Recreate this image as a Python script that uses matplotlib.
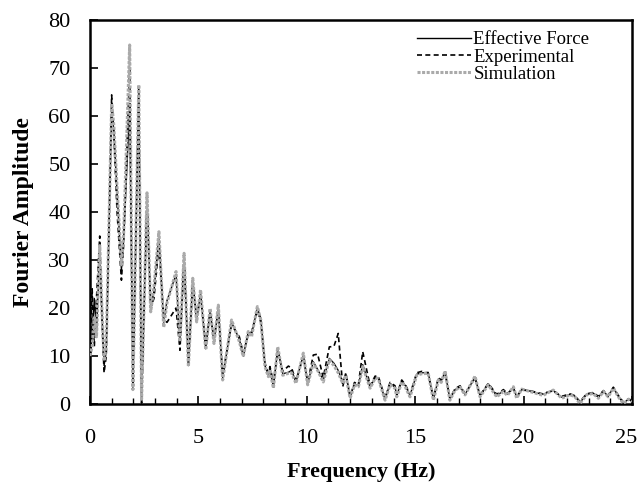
import matplotlib
matplotlib.use("Agg")
import matplotlib.pyplot as plt
from matplotlib.ticker import MultipleLocator
from matplotlib.transforms import ScaledTranslation

plt.rcParams['font.family'] = ['Liberation Serif', 'DejaVu Serif']

# Frequency points (Hz) shared by the three spectra
freq = [0.0, 0.1, 0.2, 0.3, 0.45, 0.55, 0.65, 0.75, 1.0, 1.1, 1.25, 1.45, 1.55,
        1.83, 1.98, 2.25, 2.38, 2.63, 2.8, 2.95, 3.18, 3.4, 3.55, 3.97, 4.15,
        4.34, 4.54, 4.74, 4.92, 5.1, 5.34, 5.54, 5.72, 5.92, 6.12, 6.53, 6.89,
        7.07, 7.3, 7.45, 7.72, 7.88, 8.07, 8.23, 8.3, 8.46, 8.66, 8.89, 9.15,
        9.3, 9.5, 9.84, 10.04, 10.3, 10.5, 10.76, 11.04, 11.25, 11.45, 11.66,
        11.8, 12.0, 12.2, 12.38, 12.58, 12.92, 13.15, 13.3, 13.61, 13.84, 14.07,
        14.15, 14.38, 14.55, 14.76, 15.07, 15.3, 15.6, 15.84, 16.07, 16.2, 16.38,
        16.6, 16.84, 17.07, 17.3, 17.76, 17.99, 18.37, 18.76, 19.07, 19.25,
        19.53, 19.68, 19.91, 20.3, 20.6, 20.9, 21.1, 21.37, 21.76, 22.14, 22.35,
        22.6, 22.9, 23.2, 23.45, 23.68, 23.9, 24.14, 24.37, 24.6, 24.85, 25.0]

simulation = [10, 12, 18, 14, 33, 20, 9, 12, 62.6, 58, 45, 29, 35,
              74.8, 3, 66.5, 1, 44, 19.2, 24.4, 35.9, 16, 21, 27.6, 13,
              31.4, 7.8, 26.2, 17.1, 23.8, 11.3, 19.9, 12.6, 20.6, 5, 17.5, 13,
              9.9, 15.1, 14, 20.3, 17.5, 7.8, 5.7, 7.2, 3.3, 11.9, 6, 6.4,
              6.5, 4.3, 10.6, 4, 8.5, 7, 4.6, 9.2, 8, 6.5, 4.3,
              6, 1.2, 4, 3.6, 7.8, 3.3, 5.35, 5.3, 0.8, 4, 3.3,
              1.5, 4.6, 3.5, 1.5, 6, 6.3, 6.4, 0.8, 5, 4.5, 6.9,
              0.8, 2.9, 3.5, 1.9, 5.8, 1.5, 4, 1.5, 2.6, 1.8,
              3.6, 1.2, 3.1, 2.6, 2.2, 1.8, 2.3, 2.9, 1.2, 1.9, 1.6,
              0.1, 1.9, 2.2, 1.2, 2.6, 1.5, 3.3, 1.5, 0.1, 1, 0.5]

effective_force = [10, 14, 22, 15, 32, 19, 8, 11, 61, 57, 44, 28, 34,
                   62, 3.5, 65, 0.5, 43, 20, 23.5, 35, 17, 21.5, 27, 12.5,
                   31, 8, 26, 17.5, 23, 11.5, 19.5, 13, 20, 5.5, 17, 13.5,
                   10, 15, 14.5, 20, 17.8, 8, 6, 7.5, 3.5, 11.5, 6.3, 6.6,
                   7, 4.6, 10.2, 4.3, 8.8, 7.2, 5, 9.5, 8.5, 7, 4.5,
                   6.2, 1.5, 4.2, 3.8, 8.2, 3.5, 5.5, 5.5, 1, 4.3, 3.5,
                   1.8, 4.8, 3.8, 1.8, 6.2, 6.5, 6.6, 1, 5.2, 4.8, 6.7,
                   1, 3, 3.6, 2, 5.6, 1.7, 4.2, 1.7, 2.8, 2,
                   3.5, 1.4, 3, 2.7, 2.3, 2, 2.4, 2.8, 1.4, 2, 1.7,
                   0.3, 2, 2.3, 1.4, 2.7, 1.6, 3.4, 1.6, 0.2, 1, 0.5]

experimental = [10, 24, 12, 22, 35, 18, 6.5, 10, 64.4, 56, 40, 25.8, 33,
                70, 4, 66, 0.2, 42, 20, 22, 33, 18, 17, 20, 11.2,
                30, 8.5, 25, 18, 22.5, 12, 19, 13.5, 19.5, 6, 16.5, 14,
                10.5, 14.5, 15, 19.5, 17, 8.5, 6.5, 7.8, 4.5, 11, 6.8, 7.9,
                7.5, 4.8, 10, 4.5, 10.2, 10.4, 5.5, 11.9, 12, 14.7, 3.6,
                6.5, 1.5, 4.5, 4, 10.9, 3.8, 5.8, 5.8, 1.2, 4.5, 3.8,
                2, 5, 4, 2, 6.5, 6.8, 6.2, 1.2, 5.5, 5, 6.5,
                1.2, 3.2, 3.8, 2.2, 5.4, 1.8, 4.3, 2, 3, 2.2,
                3.3, 1.6, 2.9, 2.8, 2.4, 2.1, 2.5, 2.7, 1.6, 2.1, 1.8,
                0.5, 2.1, 2.4, 1.6, 2.8, 1.8, 3.5, 1.8, 0.4, 1.1, 0.6]

fig = plt.figure(figsize=(6.4, 4.93), dpi=100)
ax = fig.add_axes([0.1406, 0.1805, 0.8469, 0.7789])

ax.plot(freq, effective_force, color='black', lw=1.0, label='Effective Force', zorder=3)
ax.plot(freq, experimental, color='black', lw=1.2, ls=(0, (3, 2)), label='Experimental', zorder=2)
ax.plot(freq, simulation, color='#aaaaaa', lw=2.2, ls=(0, (1, 0.5)), label='Simulation', zorder=4)

ax.set_xlim(0, 25)
ax.set_ylim(0, 80)
ax.xaxis.set_major_locator(MultipleLocator(5))
ax.xaxis.set_minor_locator(MultipleLocator(1))
ax.yaxis.set_major_locator(MultipleLocator(10))

ax.tick_params(axis='both', which='both', direction='in', labelsize=16)
ax.tick_params(axis='x', which='major', length=6, width=1.2, pad=18)
ax.tick_params(axis='x', which='minor', length=4, width=1.0)
ax.tick_params(axis='y', which='major', length=6, width=1.2, pad=14)

for sp in ax.spines.values():
    sp.set_linewidth(1.8)

ax.set_xlabel('Frequency (Hz)', fontsize=16, fontweight='bold', labelpad=10)
ax.set_ylabel('Fourier Amplitude', fontsize=17, fontweight='bold', labelpad=10)

leg = ax.legend(loc='upper right', bbox_to_anchor=(0.935, 0.99), frameon=False,
                fontsize=13.5, handlelength=2.9, handletextpad=0.1,
                labelspacing=0.0, borderaxespad=0)

# Nudge the last x tick label so it stays inside the figure edge
fig.canvas.draw()
last_tick = ax.xaxis.get_major_ticks()[-1]
for t in ax.xaxis.get_major_ticks():
    if abs(t.get_loc() - 25) < 1e-9:
        last_tick = t
last_tick.label1.set_transform(last_tick.label1.get_transform()
                               + ScaledTranslation(-4 / 72, 0, fig.dpi_scale_trans))

fig.savefig('out.png', dpi=100)
